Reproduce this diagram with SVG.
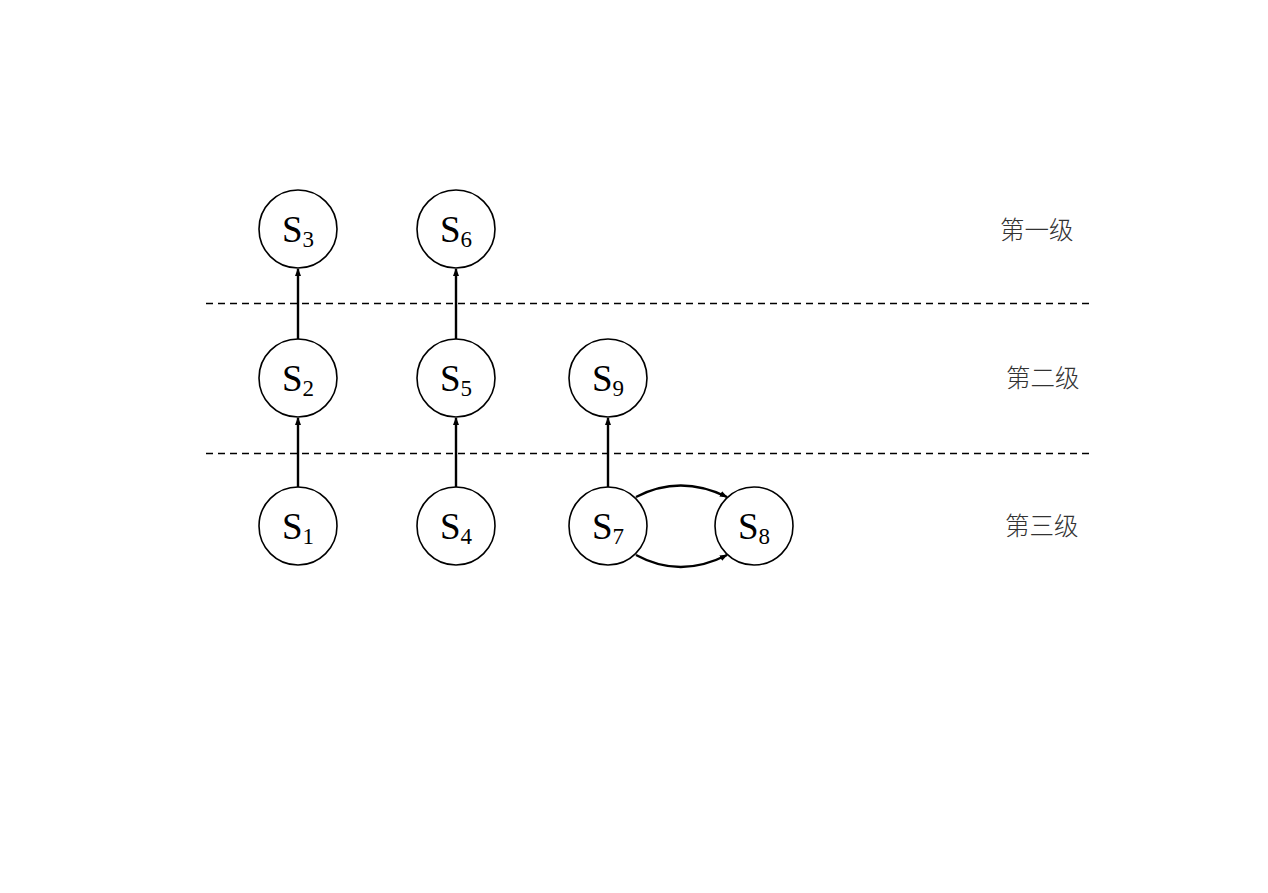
<svg xmlns="http://www.w3.org/2000/svg" width="1268" height="893" viewBox="0 0 1268 893">
<style>
.node circle{fill:#fff;stroke:#000;stroke-width:1.6}
.lbl{font-family:"Liberation Serif","Times New Roman",serif;font-size:37px;fill:#000;text-anchor:middle}
.sub{font-size:23px}
.edge{stroke:#000;stroke-width:2.4;fill:none;marker-end:url(#ah)}
.dash{stroke:#000;stroke-width:1.5;stroke-dasharray:7,5}
.lev{font-family:"Noto Sans CJK SC",sans-serif;font-size:24.5px;fill:#333;font-weight:300}
</style>
<defs>
<marker id="ah" markerWidth="8" markerHeight="8" refX="7" refY="4" orient="auto" markerUnits="userSpaceOnUse">
<path d="M0,1 L8,4 L0,7 Z" fill="#000"/>
</marker>
</defs>
<rect width="1268" height="893" fill="#fff"/>
<g id="dividers">
<line class="dash" x1="206" y1="303.5" x2="1092" y2="303.5"/>
<line class="dash" x1="206" y1="453.5" x2="1092" y2="453.5"/>
</g>
<g id="connectors">
<line class="edge" x1="298" y1="340" x2="298" y2="269"/>
<line class="edge" x1="456" y1="340" x2="456" y2="269"/>
<line class="edge" x1="298" y1="488" x2="298" y2="418"/>
<line class="edge" x1="456" y1="488" x2="456" y2="418"/>
<line class="edge" x1="608" y1="488" x2="608" y2="418"/>
<path class="edge" d="M636,497 Q680,474 727,497"/>
<path class="edge" d="M636,555 Q680,579 727,555"/>
</g>
<g id="S3" class="node"><circle cx="298" cy="229" r="39"/><text class="lbl" x="298" y="242">S<tspan class="sub" dy="5">3</tspan></text></g>
<g id="S6" class="node"><circle cx="456" cy="229" r="39"/><text class="lbl" x="456" y="242">S<tspan class="sub" dy="5">6</tspan></text></g>
<g id="S2" class="node"><circle cx="298" cy="378" r="39"/><text class="lbl" x="298" y="391">S<tspan class="sub" dy="5">2</tspan></text></g>
<g id="S5" class="node"><circle cx="456" cy="378" r="39"/><text class="lbl" x="456" y="391">S<tspan class="sub" dy="5">5</tspan></text></g>
<g id="S9" class="node"><circle cx="608" cy="378" r="39"/><text class="lbl" x="608" y="391">S<tspan class="sub" dy="5">9</tspan></text></g>
<g id="S1" class="node"><circle cx="298" cy="526" r="39"/><text class="lbl" x="298" y="539">S<tspan class="sub" dy="5">1</tspan></text></g>
<g id="S4" class="node"><circle cx="456" cy="526" r="39"/><text class="lbl" x="456" y="539">S<tspan class="sub" dy="5">4</tspan></text></g>
<g id="S7" class="node"><circle cx="608" cy="526" r="39"/><text class="lbl" x="608" y="539">S<tspan class="sub" dy="5">7</tspan></text></g>
<g id="S8" class="node"><circle cx="754" cy="526" r="39"/><text class="lbl" x="754" y="539">S<tspan class="sub" dy="5">8</tspan></text></g>
<g id="levels">
<text class="lev" x="1000" y="239">第一级</text>
<text class="lev" x="1006" y="387">第二级</text>
<text class="lev" x="1005" y="535">第三级</text>
</g>
</svg>
